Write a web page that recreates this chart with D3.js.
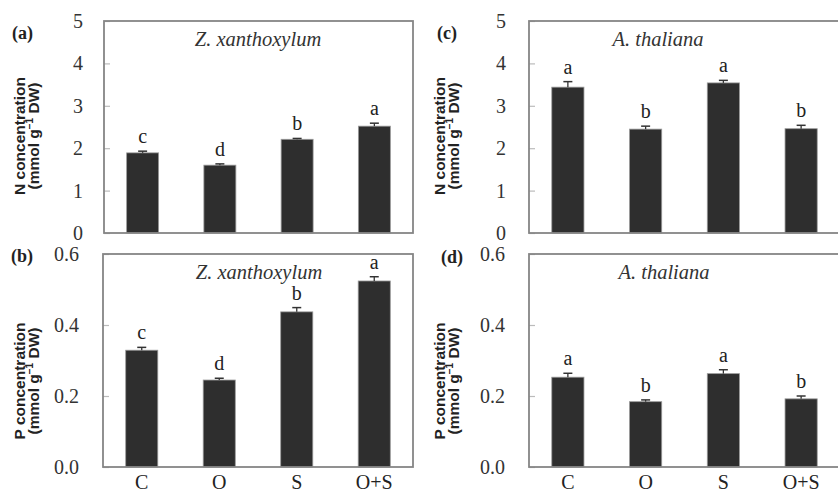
<!DOCTYPE html>
<html>
<head>
<meta charset="utf-8">
<script src="https://cdn.jsdelivr.net/npm/d3@7"></script>
<style>
  html, body { margin: 0; padding: 0; background: #fff; }
  svg { display: block; }
</style>
</head>
<body>
<svg id="chart" width="838" height="494"></svg>
<script>
// ---- data ----
const categories = ["C", "O", "S", "O+S"];

const nZx = [1.89, 1.60, 2.21, 2.52];
const nZxErr = [0.04, 0.03, 0.02, 0.07];
const nZxLetters = ["c", "d", "b", "a"];

const nAt = [3.44, 2.45, 3.54, 2.46];
const nAtErr = [0.13, 0.07, 0.06, 0.08];
const nAtLetters = ["a", "b", "a", "b"];

const pZx = [0.329, 0.245, 0.437, 0.524];
const pZxErr = [0.008, 0.005, 0.012, 0.012];
const pZxLetters = ["c", "d", "b", "a"];

const pAt = [0.253, 0.184, 0.263, 0.192];
const pAtErr = [0.011, 0.005, 0.011, 0.008];
const pAtLetters = ["a", "b", "a", "b"];

const nTicks = [0, 1, 2, 3, 4, 5];
const pTicks = [0.0, 0.2, 0.4, 0.6];

const svg = d3.select("#chart");
const serif = "'Liberation Serif', 'Times New Roman', serif";
const sans = "'Liberation Sans', Arial, sans-serif";

function panel(o) {
  const x = d3.scaleBand().domain(categories).range([o.x0, o.x1])
    .paddingInner(0.586).paddingOuter(0.293);
  const y = d3.scaleLinear().domain(o.domain).range([o.y1, o.y0]);
  const g = svg.append("g");

  // bars
  g.selectAll("rect.bar").data(o.values).join("rect")
    .attr("class", "bar")
    .attr("x", (d, i) => x(categories[i]))
    .attr("width", x.bandwidth())
    .attr("y", d => y(d))
    .attr("height", d => y(0) - y(d))
    .attr("fill", "#2e2e2e")
    .attr("stroke", "#9a9a9a")
    .attr("stroke-width", 0.8);

  // error bars
  const cap = 4.5;
  o.values.forEach((v, i) => {
    const cx = x(categories[i]) + x.bandwidth() / 2;
    const top = y(v + o.errs[i]);
    g.append("line").attr("x1", cx).attr("x2", cx)
      .attr("y1", y(v)).attr("y2", top)
      .attr("stroke", "#333").attr("stroke-width", 1.3);
    g.append("line").attr("x1", cx - cap).attr("x2", cx + cap)
      .attr("y1", top).attr("y2", top)
      .attr("stroke", "#333").attr("stroke-width", 1.5);
    g.append("text").attr("x", cx).attr("y", top - 8)
      .attr("text-anchor", "middle")
      .attr("font-family", serif).attr("font-size", 20)
      .attr("fill", "#222")
      .text(o.letters[i]);
  });

  // y axis (inner ticks)
  const yAxis = d3.axisRight(y).tickValues(o.ticks).tickSize(6).tickFormat("");
  const ya = g.append("g").attr("transform", `translate(${o.x0},0)`).call(yAxis);
  ya.select(".domain").remove();
  ya.selectAll(".tick line").attr("stroke", "#bbb").attr("stroke-width", 1.2);

  // tick labels
  g.selectAll("text.tl").data(o.ticks).join("text")
    .attr("class", "tl")
    .attr("x", o.x0 - o.labelGap)
    .attr("y", d => y(d))
    .attr("dy", "0.35em")
    .attr("text-anchor", "end")
    .style("font-family", serif).style("font-size", "20px")
    .attr("fill", "#333")
    .text(d => o.fmt(d));

  // frame
  g.append("rect")
    .attr("x", o.x0).attr("y", o.y0)
    .attr("width", o.x1 - o.x0).attr("height", o.y1 - o.y0)
    .attr("fill", "none").attr("stroke", "#858585").attr("stroke-width", 1.8);

  // x labels
  if (o.xlabels) {
    const xa = g.append("g").attr("transform", `translate(0,${o.y1})`)
      .call(d3.axisBottom(x).tickSize(0).tickPadding(0));
    xa.select(".domain").remove();
    xa.selectAll("text").style("font-family", serif).style("font-size", "20px")
      .attr("fill", "#222").attr("dy", null).attr("y", 22);
  }

  // species title
  g.append("text").attr("x", o.titleX).attr("y", o.y0 + 25)
    .attr("text-anchor", "middle")
    .attr("font-family", serif).attr("font-style", "italic")
    .attr("font-size", 20.5).attr("fill", "#333")
    .text(o.title);

  // panel label
  g.append("text").attr("x", o.tagX).attr("y", o.tagY)
    .attr("text-anchor", "end")
    .attr("font-family", serif).attr("font-weight", "bold")
    .attr("font-size", 18).attr("fill", "#222")
    .text(o.tag);

  // y label
  const yl = g.append("text")
    .attr("transform", `translate(${o.ylx},${o.yly}) rotate(-90)`)
    .attr("text-anchor", "middle")
    .attr("font-family", sans).attr("font-weight", "bold")
    .attr("font-size", 15.5).attr("fill", "#222");
  yl.append("tspan").attr("x", 0).attr("y", 0).text(o.ylab);
  const l2 = yl.append("tspan").attr("x", 0).attr("y", 13.5);
  l2.append("tspan").text("(mmol g");
  l2.append("tspan").attr("font-size", 10).attr("dy", -6).text("\u22121");
  l2.append("tspan").attr("dy", 6).text(" DW)");
}

panel({ x0: 104, x1: 413, y0: 21, y1: 233, domain: [0, 5], ticks: nTicks,
  fmt: d3.format("d"), values: nZx, errs: nZxErr, letters: nZxLetters,
  title: "Z. xanthoxylum", titleX: 258, tag: "(a)", tagX: 33, tagY: 39,
  labelGap: 21, ylab: "N concentration", ylx: 25, yly: 136, xlabels: false });

panel({ x0: 103, x1: 413, y0: 254, y1: 467, domain: [0, 0.6], ticks: pTicks,
  fmt: d3.format(".1f"), values: pZx, errs: pZxErr, letters: pZxLetters,
  title: "Z. xanthoxylum", titleX: 259, tag: "(b)", tagX: 33, tagY: 262,
  labelGap: 24, ylab: "P concentration", ylx: 25, yly: 381, xlabels: true });

panel({ x0: 529, x1: 840, y0: 21, y1: 233, domain: [0, 5], ticks: nTicks,
  fmt: d3.format("d"), values: nAt, errs: nAtErr, letters: nAtLetters,
  title: "A. thaliana", titleX: 658, tag: "(c)", tagX: 457, tagY: 39,
  labelGap: 23, ylab: "N concentration", ylx: 445, yly: 136, xlabels: false });

panel({ x0: 529, x1: 840, y0: 254, y1: 467, domain: [0, 0.6], ticks: pTicks,
  fmt: d3.format(".1f"), values: pAt, errs: pAtErr, letters: pAtLetters,
  title: "A. thaliana", titleX: 664, tag: "(d)", tagX: 463, tagY: 263,
  labelGap: 24, ylab: "P concentration", ylx: 445, yly: 381, xlabels: true });
</script>
</body>
</html>
